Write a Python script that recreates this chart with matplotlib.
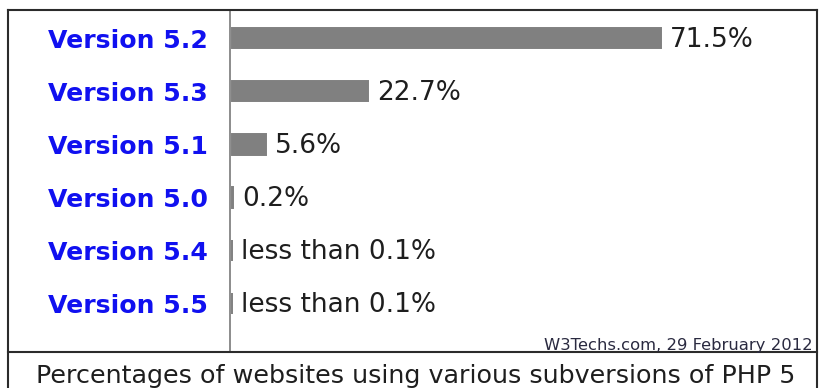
import matplotlib
matplotlib.use("Agg")
import matplotlib.pyplot as plt
from matplotlib.lines import Line2D

matplotlib.rcParams["font.family"] = "DejaVu Sans"

# ── data ─────────────────────────────────────────────────────────────────────
versions = ["Version 5.2", "Version 5.3", "Version 5.1",
            "Version 5.0", "Version 5.4", "Version 5.5"]
shares = [71.5, 22.7, 5.6, 0.2, 0.05, 0.05]
share_labels = ["71.5%", "22.7%", "5.6%", "0.2%",
                "less than 0.1%", "less than 0.1%"]

C_BAR = "#808080"
C_LABEL = "#1010f0"
C_TEXT = "#1e1e1e"
C_FRAME = "#2b2b2b"

W, H = 819, 388
fig = plt.figure(figsize=(W / 100, H / 100), dpi=100)
fig.patch.set_facecolor("white")


def fx(px):
    return px / W


def fy(py):
    return 1 - py / H


# plot area: from the axis line to the right frame, top frame to separator
ax = fig.add_axes([fx(230), fy(352), fx(817) - fx(230), fy(10) - fy(352)])
ypos = list(range(len(versions)))
# edge keeps the tiny shares visible as thin slivers
ax.barh(ypos, shares, height=0.39, color=C_BAR,
        edgecolor=C_BAR, linewidth=1.4)
ax.set_xlim(-0.33, 97.5)
ax.set_ylim(len(versions) - 1 + 0.915, -0.528)

ax.set_yticks(ypos)
ax.set_yticklabels(versions, fontsize=18.1, fontweight="bold", color=C_LABEL)
ax.tick_params(axis="y", length=0, pad=16)
ax.set_xticks([])

for y, v, lab in zip(ypos, shares, share_labels):
    ax.annotate(lab, xy=(v, y), xytext=(6.5, -1.2),
                textcoords="offset points", ha="left", va="center",
                fontsize=19, color=C_TEXT)

for side in ("top", "right", "bottom"):
    ax.spines[side].set_visible(False)
ax.spines["left"].set_color("#8c8c8c")
ax.spines["left"].set_linewidth(1.4)
ax.spines["left"].set_zorder(3)

# outer frame and caption separator
frame = [
    ((8, 817), (10, 10)),
    ((8, 8), (10, 388)),
    ((817, 817), (10, 388)),
    ((8, 817), (352, 352)),
]
for xs, ys in frame:
    fig.add_artist(Line2D([fx(xs[0]), fx(xs[1])], [fy(ys[0]), fy(ys[1])],
                          color=C_FRAME, lw=1.5))

fig.text(fx(813), fy(350), "W3Techs.com, 29 February 2012",
         ha="right", va="baseline", fontsize=11.8, color="#2a2a40")
fig.text(fx(416), fy(383),
         "Percentages of websites using various subversions of PHP 5",
         ha="center", va="baseline", fontsize=18.3, color=C_TEXT)

fig.savefig("out.png", dpi=100, facecolor="white")
